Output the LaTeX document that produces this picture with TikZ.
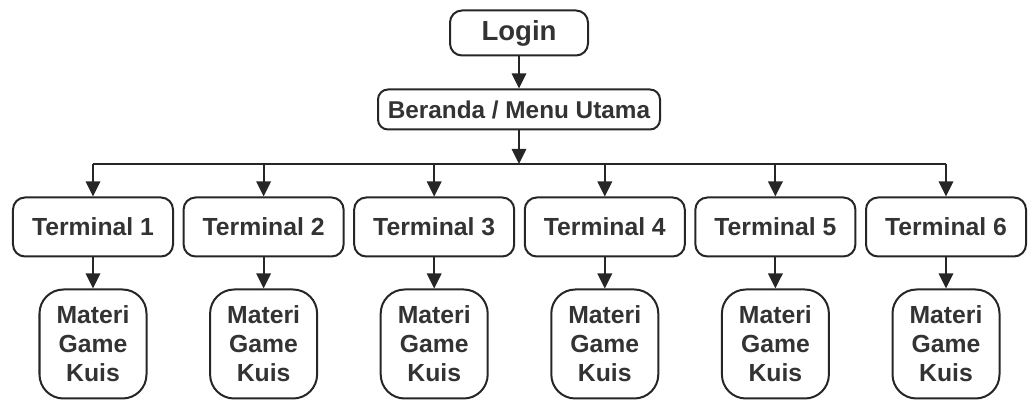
\documentclass[tikz,border=0pt]{standalone}
\usepackage{fontspec}
\setmainfont{Liberation Sans}
\usetikzlibrary{arrows.meta, positioning}
\tikzset{
>={Triangle[length=0.375cm,width=0.36cm]}, % filled triangle heads
node distance=0.8cm, % gap between the rows
box/.style={draw=black!85, line width=0.05cm, text=black!80, align=center, inner sep=0pt,
            font=\bfseries\fontsize{17.6}{20.7}\selectfont}, % every box
topbox/.style={box, rounded corners=0.3cm, minimum height=1.125cm, minimum width=3.45cm},
menubox/.style={box, rounded corners=0.25cm, minimum height=1cm, minimum width=7.05cm,
                font=\bfseries\fontsize{17.3}{20.7}\selectfont},
termbox/.style={box, rounded corners=0.3cm, minimum height=1.475cm, minimum width=4cm},
isibox/.style={box, rounded corners=0.6cm, minimum height=2.725cm, minimum width=2.675cm},
link/.style={->, draw=black!85, line width=0.05cm}, % the connectors
}

\begin{document}
\begin{tikzpicture}
    \useasboundingbox (0,0) rectangle (25.85,-10.025);

    \node[topbox, font=\bfseries\fontsize{19.6}{22}\selectfont] (login) at (12.975,-0.825) {Login};
    \node[menubox, below=of login] (menu) {Beranda / Menu Utama};
    \coordinate (hub) at (12.975,-4.1);

    \node[termbox] (t1) at (2.325,-5.675) {Terminal 1};
    \foreach \i [count=\j from 2] in {1,...,5}
        \node[termbox, right=0.215cm of t\i] (t\j) {Terminal \j};
    \foreach \i in {1,...,6}
        \node[isibox, below=0.775cm of t\i] (m\i) {Materi\\Game\\Kuis};

    \draw[link] (login) -- (menu);
    \draw[link] (menu) -- (hub);
    \draw[link, -] (hub -| t1) -- (hub -| t6);
    \foreach \i in {1,...,6} {
        \draw[link] (hub -| t\i) -- (t\i);
        \draw[link] (t\i) -- (m\i);
    }
\end{tikzpicture}
\end{document}
